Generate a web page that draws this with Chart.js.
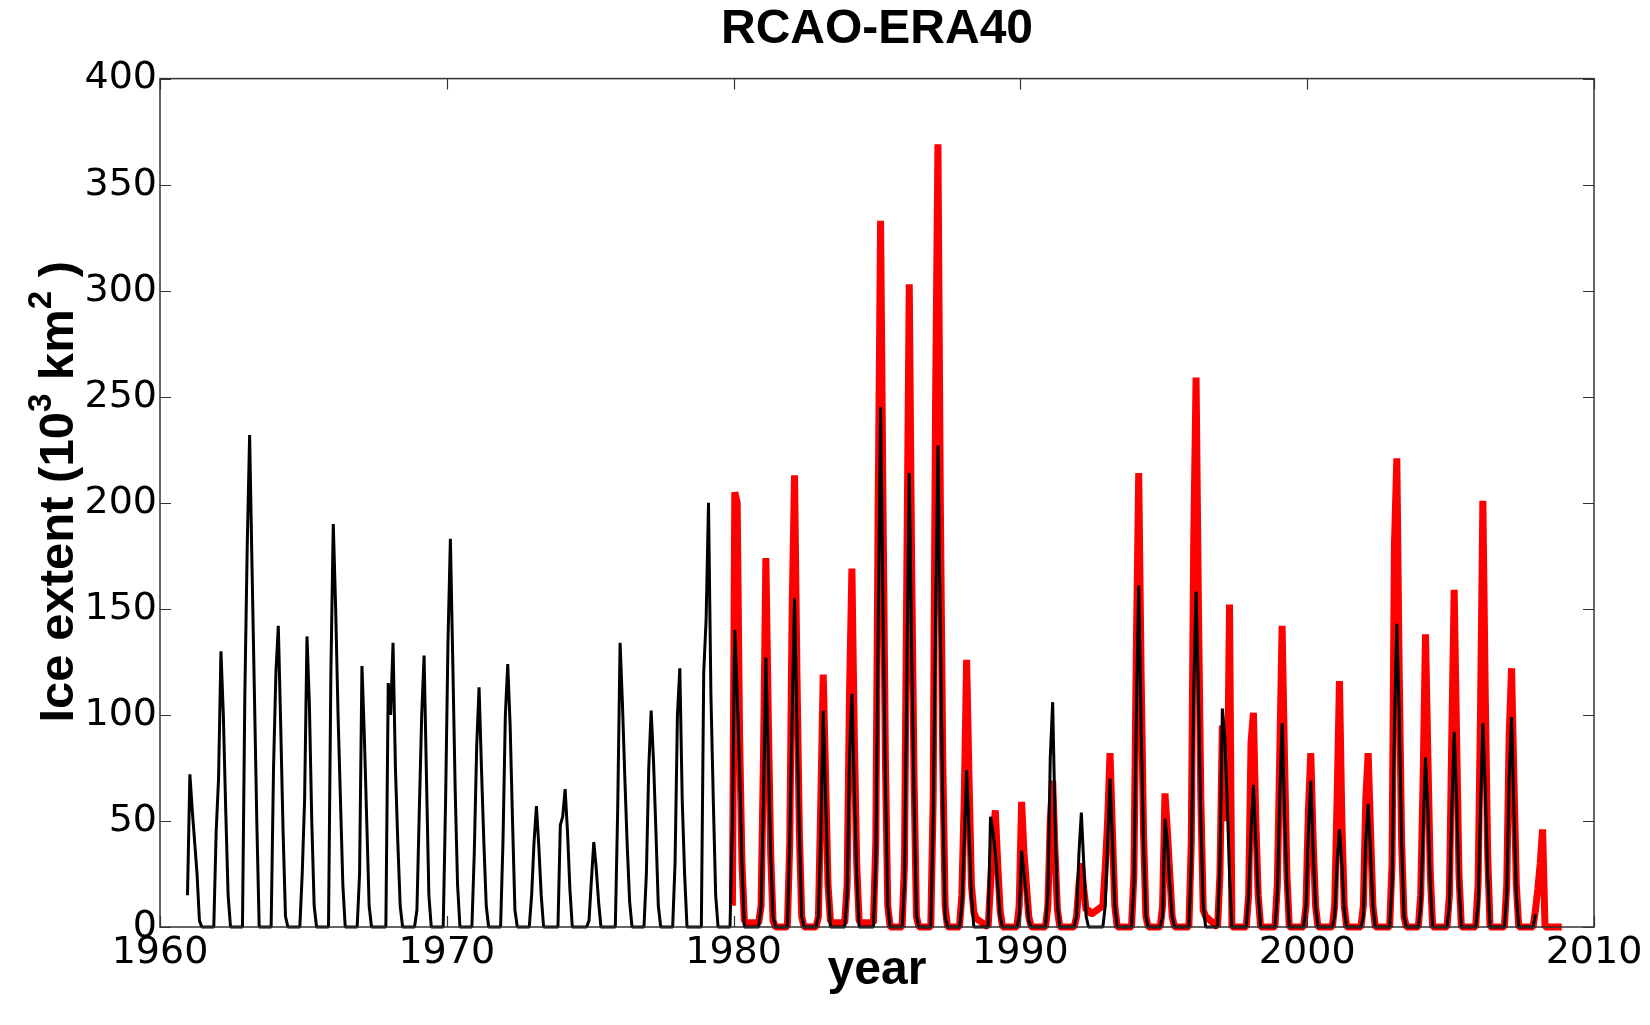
<!DOCTYPE html>
<html>
<head>
<meta charset="utf-8">
<title>RCAO-ERA40</title>
<script src="https://cdn.jsdelivr.net/npm/chart.js@4.4.1/dist/chart.umd.min.js"></script>
<style>
    html, body { margin: 0; padding: 0; background: #fff; }
    #wrap { width: 1650px; height: 1025px; }
</style>
</head>
<body>
<div id="wrap"><canvas id="ice-chart" width="1650" height="1025"></canvas></div>
<script>
// Axis ticks
const yearTicks = [1960, 1970, 1980, 1990, 2000, 2010];
const extentTicks = [0, 50, 100, 150, 200, 250, 300, 350, 400];

// Each winter season is read month by month: Nov, Dec (previous year), Jan ... Jun
const seasonMonths = ['Nov', 'Dec', 'Jan', 'Feb', 'Mar', 'Apr', 'May', 'Jun'];

// RCAO-ERA40 model ice extent (black), seasons 1961..2008
const modelFirstYear = 1961;
const modelSeasons = [
    [null, 15, 72, 55, 40, 25, 3, 0],     // 1961
    [0, 45, 70, 130, 100, 55, 15, 0],     // 1962
    [0, 110, 180, 232, 170, 110, 50, 0],  // 1963
    [0, 75, 120, 142, 95, 45, 5, 0],      // 1964
    [0, 25, 60, 137, 105, 50, 10, 0],     // 1965
    [0, 120, 190, 150, 100, 60, 20, 0],   // 1966
    [0, 25, 123, 90, 50, 10, 0, 0],       // 1967
    [0, 115, 100, 134, 75, 40, 10, 0],    // 1968
    [0, 8, 55, 100, 128, 70, 15, 0],      // 1969
    [0, 60, 135, 183, 125, 65, 20, 0],    // 1970
    [0, 35, 85, 113, 75, 40, 10, 0],      // 1971
    [0, 40, 100, 124, 95, 50, 8, 0],      // 1972
    [0, 15, 40, 57, 38, 15, 0, 0],        // 1973
    [0, 48, 52, 65, 45, 18, 0, 0],        // 1974
    [0, 3, 22, 40, 28, 12, 0, 0],         // 1975
    [0, 55, 134, 105, 70, 38, 12, 0],     // 1976
    [0, 25, 75, 102, 78, 45, 10, 0],      // 1977
    [0, 30, 100, 122, 60, 25, 0, 0],      // 1978
    [0, 120, 145, 200, 110, 60, 15, 0],   // 1979
    [0, 50, 140, 110, 75, 30, 0, 0],      // 1980
    [0, 10, 60, 127, 80, 35, 5, 0],       // 1981
    [0, 40, 100, 155, 95, 45, 5, 0],      // 1982
    [0, 5, 45, 102, 60, 20, 0, 0],        // 1983
    [0, 15, 80, 110, 65, 25, 0, 0],       // 1984
    [0, 30, 140, 245, 150, 70, 10, 0],    // 1985
    [0, 20, 120, 214, 130, 60, 5, 0],     // 1986
    [0, 50, 145, 227, 140, 60, 5, 0],     // 1987
    [0, 10, 40, 74, 45, 15, 0, 0],        // 1988
    [0, 52, 45, 35, 20, 5, 0, 0],         // 1989
    [0, 5, 36, 25, 15, 3, 0, 0],          // 1990
    [0, 15, 80, 106, 50, 10, 0, 0],       // 1991
    [0, 5, 35, 54, 30, 5, 0, 0],          // 1992
    [0, 10, 40, 70, 40, 10, 0, 0],        // 1993
    [0, 20, 100, 161, 95, 40, 5, 0],      // 1994
    [0, 5, 51, 40, 20, 5, 0, 0],          // 1995
    [0, 30, 110, 158, 110, 50, 10, 0],    // 1996
    [0, 30, 103, 90, 60, 25, 0, 0],       // 1997
    [0, 15, 45, 67, 40, 15, 0, 0],        // 1998
    [0, 15, 60, 96, 55, 20, 0, 0],        // 1999
    [0, 10, 45, 69, 35, 10, 0, 0],        // 2000
    [0, 5, 30, 46, 30, 8, 0, 0],          // 2001
    [0, 5, 40, 58, 35, 10, 0, 0],         // 2002
    [0, 20, 95, 143, 100, 40, 5, 0],      // 2003
    [0, 10, 45, 80, 55, 20, 0, 0],        // 2004
    [0, 10, 55, 92, 60, 20, 0, 0],        // 2005
    [0, 10, 55, 96, 65, 25, 0, 0],        // 2006
    [0, 15, 70, 99, 55, 15, 0, 0],        // 2007
    [0, 6]                                // 2008 (series ends)
];

// Observed ice extent (red), seasons 1980..2009
const observedFirstYear = 1980;
const observedSeasons = [
    [null, 10, 205, 200, 90, 30, 3, 2],   // 1980
    [2, 10, 80, 174, 100, 35, 3, 0],      // 1981
    [0, 40, 150, 213, 120, 45, 5, 0],     // 1982
    [0, 5, 60, 119, 70, 20, 3, 2],        // 1983
    [2, 20, 110, 169, 90, 30, 3, 2],      // 1984
    [2, 40, 200, 333, 200, 80, 10, 0],    // 1985
    [0, 30, 170, 303, 170, 70, 5, 0],     // 1986
    [0, 60, 247, 369, 200, 80, 10, 0],    // 1987
    [0, 15, 60, 126, 70, 20, 7, 4],       // 1988
    [0, 20, 40, 55, 30, 8, 0, 0],         // 1989
    [0, 10, 59, 35, 20, 5, 0, 0],         // 1990
    [0, 10, 50, 69, 35, 8, 0, 0],         // 1991
    [0, 5, 20, 30, 18, 8, 8, 6],          // 1992
    [10, 28, 50, 82, 45, 10, 0, 0],       // 1993
    [0, 25, 130, 214, 120, 45, 5, 0],     // 1994
    [0, 10, 63, 45, 25, 5, 0, 0],         // 1995
    [0, 40, 180, 259, 150, 60, 8, 5],     // 1996
    [0, 25, 95, 60, 50, 152, 0, 0],       // 1997
    [0, 15, 87, 101, 50, 15, 0, 0],       // 1998
    [0, 20, 80, 142, 80, 25, 0, 0],       // 1999
    [0, 10, 55, 82, 40, 10, 0, 0],        // 2000
    [0, 10, 60, 116, 50, 10, 0, 0],       // 2001
    [0, 10, 60, 82, 45, 10, 0, 0],        // 2002
    [0, 30, 180, 221, 120, 40, 5, 0],     // 2003
    [0, 15, 70, 138, 80, 25, 0, 0],       // 2004
    [0, 15, 90, 159, 90, 25, 0, 0],       // 2005
    [0, 20, 100, 201, 110, 35, 0, 0],     // 2006
    [0, 20, 90, 122, 70, 20, 0, 0],       // 2007
    [0, 8, 18, 30, 46, 0, 0, 0],          // 2008
    [0]                                   // Nov 2008 (series ends)
];

const TICK_LEN = 11;

// Turn season tables into {x: decimal year, y} points at mid-month
function seasonPoints(firstYear, seasons) {
    const points = [];
    seasons.forEach((values, i) => {
        const year = firstYear + i;
        values.forEach((v, m) => {
            if (v === null) return;
            // m = 0 is mid-November of the previous year
            points.push({ x: year + (m - 1.5) / 12, y: v });
        });
    });
    return points;
}

// MATLAB-style box with inward ticks on all four sides
const boxAxes = {
    id: 'boxAxes',
    afterDraw(chart) {
        const { ctx, chartArea: a, scales: { x, y } } = chart;
        ctx.save();
        ctx.strokeStyle = '#333';
        ctx.lineWidth = 1.5;
        ctx.strokeRect(a.left, a.top, a.right - a.left, a.bottom - a.top);
        ctx.beginPath();
        x.ticks.forEach(t => {
            const px = Math.round(x.getPixelForValue(t.value)) + 0.5;
            ctx.moveTo(px, a.bottom);
            ctx.lineTo(px, a.bottom - TICK_LEN);
            ctx.moveTo(px, a.top);
            ctx.lineTo(px, a.top + TICK_LEN);
        });
        y.ticks.forEach(t => {
            const py = Math.round(y.getPixelForValue(t.value)) + 0.5;
            ctx.moveTo(a.left, py);
            ctx.lineTo(a.left + TICK_LEN, py);
            ctx.moveTo(a.right, py);
            ctx.lineTo(a.right - TICK_LEN, py);
        });
        ctx.lineWidth = 1.2;
        ctx.stroke();
        ctx.restore();
    }
};

// Y axis title with real superscripts, drawn rotated along the left edge
const yTitleParts = [
    { text: 'Ice extent (10', sup: false },
    { text: '3', sup: true },
    { text: ' km', sup: false },
    { text: '2', sup: true },
    { text: ' )', sup: false }
];

const yAxisTitle = {
    id: 'yAxisTitle',
    afterDraw(chart) {
        const { ctx, chartArea: a } = chart;
        const size = 49;
        const supSize = 33;
        const mainFont = `bold ${size}px "Liberation Sans", Arial, sans-serif`;
        const supFont = `bold ${supSize}px "Liberation Sans", Arial, sans-serif`;

        // total length so the label can be centred a bit above the plot middle
        let total = 0;
        yTitleParts.forEach(p => {
            ctx.font = p.sup ? supFont : mainFont;
            total += ctx.measureText(p.text).width;
        });

        ctx.save();
        const centreY = (a.top + a.bottom) / 2 - 11;
        ctx.translate(73, centreY + total / 2);
        ctx.rotate(-Math.PI / 2);
        ctx.fillStyle = '#000';
        ctx.textAlign = 'left';
        ctx.textBaseline = 'alphabetic';
        let pos = 0;
        yTitleParts.forEach(p => {
            ctx.font = p.sup ? supFont : mainFont;
            ctx.fillText(p.text, pos, p.sup ? -size * 0.45 : 0);
            pos += ctx.measureText(p.text).width;
        });
        ctx.restore();
    }
};

document.addEventListener('DOMContentLoaded', () => {
    const tickFont = { family: 'DejaVu Sans', size: 38 };
    const labelFont = { family: 'Liberation Sans', size: 48, weight: 'bold' };

    new Chart(document.getElementById('ice-chart').getContext('2d'), {
        type: 'line',
        data: {
            datasets: [
                {
                    label: 'RCAO-ERA40',
                    data: seasonPoints(modelFirstYear, modelSeasons),
                    borderColor: '#000000',
                    borderWidth: 3,
                    borderJoinStyle: 'bevel',
                    pointRadius: 0,
                    tension: 0,
                    fill: false,
                    clip: 4,
                    order: 0
                },
                {
                    label: 'Observed',
                    data: seasonPoints(observedFirstYear, observedSeasons),
                    borderColor: '#ff0000',
                    borderWidth: 7,
                    borderJoinStyle: 'bevel',
                    pointRadius: 0,
                    tension: 0,
                    fill: false,
                    clip: 4,
                    order: 1
                }
            ]
        },
        options: {
            responsive: false,
            animation: false,
            layout: { padding: { left: 0, right: 56, top: 0, bottom: 0 } },
            plugins: {
                legend: { display: false },
                tooltip: { enabled: false },
                title: {
                    display: true,
                    fullSize: false,
                    align: 'center',
                    text: 'RCAO-ERA40',
                    color: '#000',
                    font: { family: 'Liberation Sans', size: 48, weight: 'bold' },
                    padding: { top: 1, bottom: 20 }
                }
            },
            scales: {
                x: {
                    type: 'linear',
                    min: 1960,
                    max: 2010,
                    afterBuildTicks: (scale) => { scale.ticks = yearTicks.map(v => ({ value: v })); },
                    afterFit: (scale) => { scale.height = 98; },
                    grid: { display: false, drawTicks: false },
                    border: { display: false },
                    ticks: {
                        font: tickFont,
                        color: '#000',
                        padding: 3,
                        maxRotation: 0,
                        autoSkip: false,
                        callback: (value) => String(value)
                    },
                    title: {
                        display: true,
                        text: 'year',
                        color: '#000',
                        font: labelFont,
                        padding: { top: 0, bottom: 25 }
                    }
                },
                y: {
                    type: 'linear',
                    min: 0,
                    max: 400,
                    afterBuildTicks: (scale) => { scale.ticks = extentTicks.map(v => ({ value: v })); },
                    afterFit: (scale) => { scale.width = 160; },
                    grid: { display: false, drawTicks: false },
                    border: { display: false },
                    ticks: {
                        font: tickFont,
                        color: '#000',
                        padding: 3,
                        autoSkip: false,
                        callback: (value) => String(value)
                    },
                    title: { display: false }
                }
            }
        },
        plugins: [boxAxes, yAxisTitle]
    });
});
</script>
</body>
</html>
